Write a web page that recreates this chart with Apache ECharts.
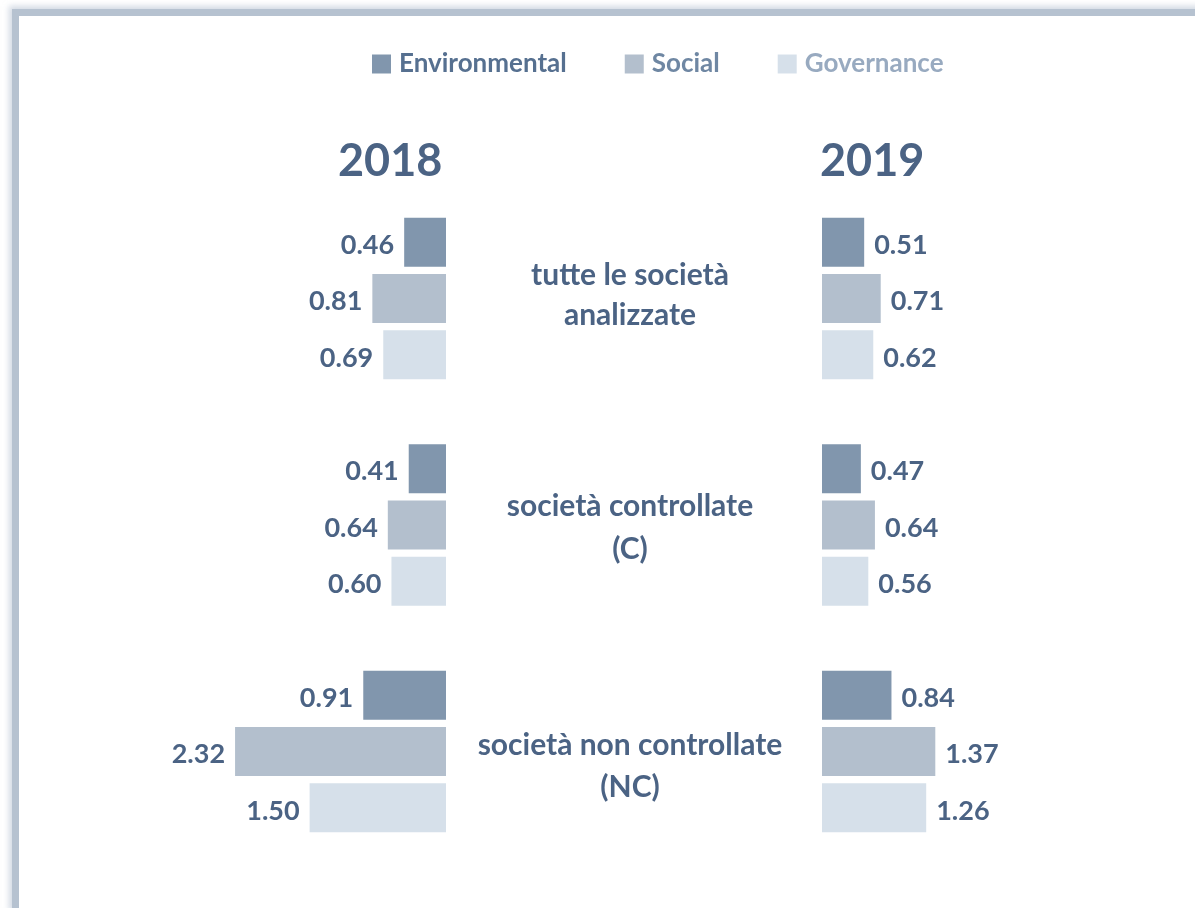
<!DOCTYPE html>
<html>
<head>
<meta charset="utf-8">
<title>ESG</title>
<script src="https://cdn.jsdelivr.net/npm/echarts@6/dist/echarts.min.js"></script>
<style>
html, body { margin: 0; padding: 0; background: #fff; overflow: hidden; }
#frame {
	position: absolute; left: 12px; top: 9px; width: 1300px; height: 896px;
	border-left: 7px solid #b6c2d0; border-top: 7px solid #b6c2d0;
	border-bottom: 2px solid #dde2ea;
	box-shadow: -3px -3px 6px rgba(180, 192, 208, 0.6);
}
#main { position: absolute; left: 0; top: 0; width: 1195px; height: 908px; }
</style>
</head>
<body>
<div id="frame"></div>
<div id="main"></div>
<script>
// categorie (gruppi di barre)
var categories = ['tutte le società\nanalizzate', 'società controllate\n(C)', 'società non controllate\n(NC)'];
var years = ['2018', '2019'];
var seriesNames = ['Environmental', 'Social', 'Governance'];
// valori 2018
var env2018 = [0.46, 0.41, 0.91];
var social2018 = [0.81, 0.64, 2.32];
var gov2018 = [0.69, 0.60, 1.50];
// valori 2019
var env2019 = [0.51, 0.47, 0.84];
var social2019 = [0.71, 0.64, 1.37];
var gov2019 = [0.62, 0.56, 1.26];

var barColors = ['#8196ad', '#b3bfcd', '#d6e0ea'];
var legendColors = ['#567090', '#6f87a3', '#98aac0'];
var textColor = '#4b6384';
var labelFont = 'Lato, "Open Sans", sans-serif';

function makeSeries(name, data, idx, side){
	return {
		name: name,
		type: 'bar',
		xAxisIndex: side,
		yAxisIndex: side,
		data: data,
		barWidth: 49,
		barGap: '15%',
		itemStyle: { color: barColors[idx] },
		label: {
			show: true,
			position: side === 0 ? 'left' : 'right',
			distance: 10,
			offset: [0, 3],
			color: textColor,
			fontFamily: labelFont,
			fontWeight: 'bold',
			fontSize: 27,
			formatter: function(p){ return p.value.toFixed(2); }
		}
	};
}

var centerStyle = { color: textColor, fontFamily: labelFont, fontWeight: 'bold', fontSize: 30 };

var chart = echarts.init(document.getElementById('main'));
var option = {
	backgroundColor: 'transparent',
	animation: false,
	title: [
		{ text: years[0], left: 333, top: 134, textStyle: { color: textColor, fontFamily: labelFont, fontWeight: 'bold', fontSize: 45 } },
		{ text: years[1], left: 815, top: 134, textStyle: { color: textColor, fontFamily: labelFont, fontWeight: 'bold', fontSize: 45 } }
	],
	legend: {
		left: 367,
		top: 46,
		itemWidth: 19,
		itemHeight: 19,
		itemGap: 58,
		icon: 'rect',
		textStyle: { fontFamily: labelFont, fontWeight: 'bold', fontSize: 26, padding: [0, 0, 0, 3] },
		data: seriesNames.map(function(n, i){
			return { name: n, textStyle: { color: legendColors[i] } };
		})
	},
	grid: [
		{ left: 218.7, right: 749, top: 185.25, bottom: 43.25 },
		{ left: 822, right: 166.25, top: 185.25, bottom: 43.25 }
	],
	xAxis: [
		{ gridIndex: 0, type: 'value', min: 0, max: 2.5, inverse: true, show: false },
		{ gridIndex: 1, type: 'value', min: 0, max: 2.5, show: false }
	],
	yAxis: [
		{ gridIndex: 0, type: 'category', data: categories, inverse: true, show: false },
		{
			gridIndex: 1, type: 'category', data: categories, inverse: true,
			axisLine: { show: false }, axisTick: { show: false },
			axisLabel: {
				margin: 192,
				align: 'center',
				color: textColor,
				fontFamily: labelFont,
				fontWeight: 'bold',
				fontSize: 30,
				lineHeight: 41,
				formatter: function(v, i){
					var lines = v.split('\n');
					var key = 'g' + i;
					return lines.map(function(l){ return '{' + key + '|' + l + '}'; }).join('\n');
				},
				rich: {
					g0: Object.assign({ lineHeight: 40, padding: [0, 0, 6, 0] }, centerStyle),
					g1: Object.assign({ lineHeight: 43, padding: [5, 0, 0, 0] }, centerStyle),
					g2: Object.assign({ lineHeight: 42, padding: [30, 0, 0, 0] }, centerStyle)
				}
			}
		}
	],
	series: [
		makeSeries(seriesNames[0], env2018, 0, 0),
		makeSeries(seriesNames[1], social2018, 1, 0),
		makeSeries(seriesNames[2], gov2018, 2, 0),
		makeSeries(seriesNames[0], env2019, 0, 1),
		makeSeries(seriesNames[1], social2019, 1, 1),
		makeSeries(seriesNames[2], gov2019, 2, 1)
	]
};
chart.setOption(option);
</script>
</body>
</html>
